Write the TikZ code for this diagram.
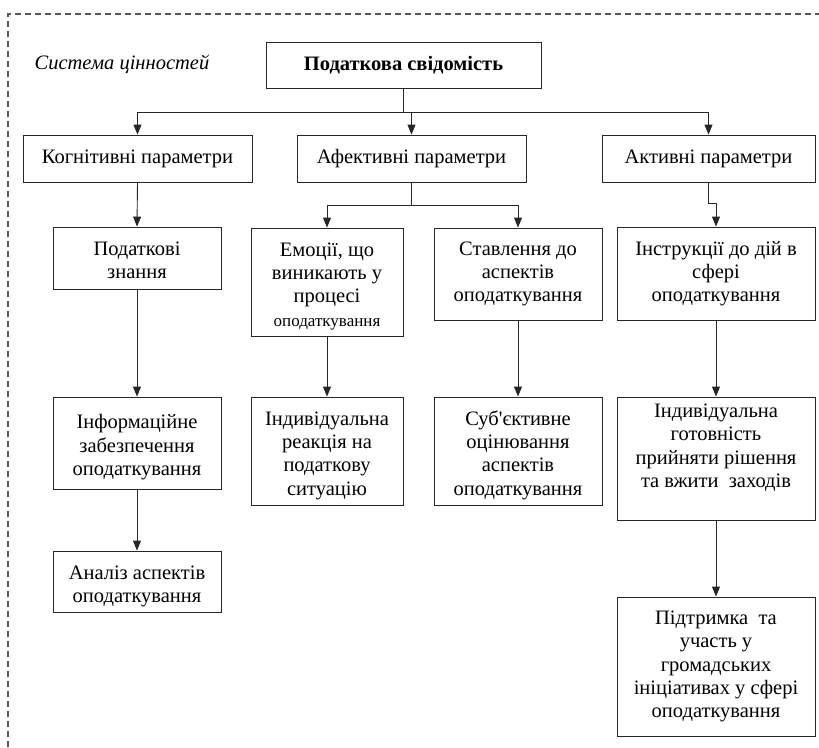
\documentclass[tikz,border=0pt]{standalone}
\usepackage{fontspec}
\setmainfont{Liberation Serif}[Ligatures=TeXOff]
\usetikzlibrary{arrows.meta}
\newcommand{\fs}{\fontsize{20.5pt}{23.3pt}\selectfont}
\newcommand{\fsm}{\fontsize{17pt}{20pt}\selectfont}
\newcommand{\tsa}{\rule{0pt}{23pt}}
\newcommand{\tsb}{\rule[-4.5pt]{0pt}{4.5pt}}
\tikzset{
  box/.style={draw=black!85, line width=0.9pt, align=center, inner sep=0pt, font=\fs, text=black},
  arr/.style={draw=black!85, line width=0.9pt, -{Triangle[width=8pt,length=10pt]}},
  ln/.style={draw=black!85, line width=0.9pt},
  frame/.style={draw=black!65, line width=1.1pt, dash pattern=on 6pt off 4pt},
}
\begin{document}
\begin{tikzpicture}[x=1pt,y=-1pt]
\useasboundingbox (0,0) rectangle (819,747);
\draw[frame] (8,747) -- (8,14) -- (819,14);
\node[font=\fs\itshape, text=black, inner sep=0pt] (sys) at (122,64) {Система цінностей};
\node[box, minimum width=275, minimum height=46] (top) at (403.5,65) {\textbf{Податкова свідомість}};
\node[box, minimum width=229, minimum height=47] (kog) at (137.5,158.5) {Когнітивні параметри};
\node[box, minimum width=229, minimum height=47] (afe) at (411.5,158.5) {Афективні параметри};
\node[box, minimum width=213, minimum height=47] (akt) at (708.5,158.5) {Активні параметри};
\node[box, minimum width=168, minimum height=62] (znan) at (137,258) {\tsa Податкові\\знання\tsb};
\node[box, minimum width=152, minimum height=108] (emo) at (327,282) {\tsa Емоції, що\\виникають у\\процесі\\{\fsm оподаткування}\tsb};
\node[box, minimum width=168, minimum height=92] (stav) at (518,274) {Ставлення до\\аспектів\\оподаткування};
\node[box, minimum width=198, minimum height=93] (instr) at (716,273.5) {Інструкції до дій в\\сфері\\оподаткування};
\node[box, minimum width=168, minimum height=92] (info) at (137,443) {\tsa Інформаційне\\забезпечення\\оподаткування\tsb};
\node[box, minimum width=152, minimum height=108] (reak) at (327,451) {\tsa Індивідуальна\\реакція на\\податкову\\ситуацію\tsb};
\node[box, minimum width=168, minimum height=108] (subj) at (518,451) {\tsa Суб'єктивне\\оцінювання\\аспектів\\оподаткування\tsb};
\node[box, minimum width=198, minimum height=123] (got) at (716,458.5) {Індивідуальна\\готовність\\прийняти рішення\\та вжити\ \ заходів\\[2pt]};
\node[box, minimum width=168, minimum height=61] (anal) at (137,581.5) {\tsa Аналіз аспектів\\оподаткування\tsb};
\node[box, minimum width=198, minimum height=139] (pidt) at (716,666.5) {Підтримка\ \ та\\участь у\\громадських\\ініціативах у сфері\\оподаткування};
\coordinate (bus1) at (403,112);
\draw[ln] (top.south -| bus1) -- (bus1);
\draw[arr] (bus1) -| (kog.north);
\draw[arr] (bus1) -| (afe.north);
\draw[arr] (bus1) -| (akt.north);
\coordinate (bus2) at (411.5,205);
\draw[ln] (afe.south) -- (bus2);
\draw[arr] (bus2) -| (emo.north);
\draw[arr] (bus2) -| (stav.north);
\draw[arr] (akt.south) -- ++(0,21) -| (instr.north);
\draw[arr] (kog.south) -- (znan.north);
\draw[arr] (znan.south) -- (info.north);
\draw[arr] (info.south) -- (anal.north);
\draw[arr] (emo.south) -- (reak.north);
\draw[arr] (stav.south) -- (subj.north);
\draw[arr] (instr.south) -- (got.north);
\draw[arr] (got.south) -- (pidt.north);
\end{tikzpicture}
\end{document}
